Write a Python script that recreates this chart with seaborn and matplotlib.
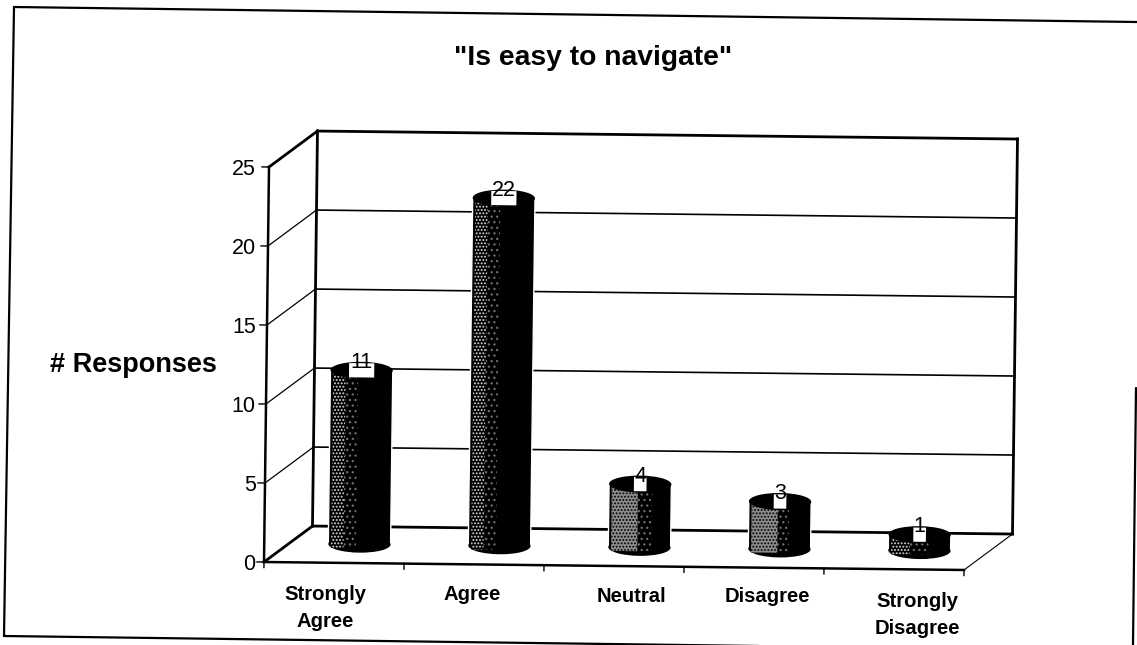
import pandas as pd
import seaborn as sns
import matplotlib.pyplot as plt
from matplotlib.lines import Line2D
from matplotlib.patches import Ellipse, Rectangle
from matplotlib.transforms import Affine2D

# Data
categories = ["Strongly\nAgree", "Agree", "Neutral", "Disagree", "Strongly\nDisagree"]
responses = [11, 22, 4, 3, 1]
y_ticks = [0, 5, 10, 15, 20, 25]

# Label offsets from the category centre, in pixels
label_dx = [-9, -2, 17, 13, 23]
label_dy = [-46, -32, -34, -35, -53]

W, H = 1137, 645
sns.set_theme(style="white")
plt.rcParams["font.family"] = ["Liberation Sans", "DejaVu Sans"]
plt.rcParams["hatch.linewidth"] = 0.9

fig = plt.figure(figsize=(W / 100, H / 100), dpi=100, facecolor="white")
ax = fig.add_axes([264 / W, (H - 562) / H, 700 / W, 395 / H])

df = pd.DataFrame({"category": categories, "responses": responses})
sns.barplot(data=df, x="category", y="responses", color="black", width=0.445,
            saturation=1, ax=ax)
ax.set_xlim(-0.5, 4.5)
ax.set_ylim(0, 25)
ax.patch.set_visible(False)
for s in ax.spines.values():
    s.set_visible(False)

# The scan is slightly rotated, so everything gets this small shear
skew = Affine2D.from_values(1, -0.101, 0.00143, 1, 0, -0.0506)
tr = skew + ax.transData
# half way into the depth of the 3d box, where the cylinders stand
mid = Affine2D().translate(0.18, 1.2) + tr
back_dx, back_dy = 0.343, 2.31


def line(xs, ys, lw=1.0, transform=tr):
    ax.plot(xs, ys, color="black", lw=lw, transform=transform, clip_on=False,
            zorder=1, solid_capstyle="projecting")


# Back wall and side wall
line([-0.5 + back_dx] * 2, [back_dy, 25 + back_dy], 2.0)
line([4.5 + back_dx] * 2, [back_dy, 25 + back_dy], 2.0)
for v in y_ticks:
    lw = 2.0 if v in (0, 25) else 1.2
    line([-0.5 + back_dx, 4.5 + back_dx], [v + back_dy] * 2, lw)
    side_lw = 2.0 if v in (0, 25) else 0.9
    line([-0.5, -0.5 + back_dx], [v, v + back_dy], side_lw)
    line([-0.55, -0.5], [v, v], 1.0)

# Front of the box
line([-0.5, -0.5], [0, 25], 1.8)
line([-0.5, 4.5], [0, 0], 1.8)
line([4.5, 4.5 + back_dx], [0, back_dy], 0.8)
for i in range(6):
    line([i - 0.5, i - 0.5], [-0.35, 0], 1.0)

# Cylinders, the lit side is a dense strip and a fainter one next to it
bar_w = 0.445
cap_h = 1.08
dense_width = [0.2, 0.2, 0.42, 0.42, 0.3]
faint_width = [0.4, 0.4, 0.65, 0.6, 0.6]
dense_face = ["black", "black", "#8c8c8c", "#8c8c8c", "black"]
dense_dots = ["#e0e0e0", "#e0e0e0", "black", "black", "#e0e0e0"]
for i, bar in enumerate(ax.patches):
    bar.set_transform(mid)
    bar.set_clip_on(False)
    bar.set_zorder(2)
    x0, v = bar.get_x(), bar.get_height()
    ax.add_patch(Ellipse((i, 0), bar_w, cap_h, fc="black", ec="none",
                         transform=mid, zorder=2, clip_on=False))
    ax.add_patch(Rectangle((x0 + 0.02, -0.25), bar_w * faint_width[i], v + 0.25,
                           fc="black", ec="#6e6e6e", lw=0, hatch="...",
                           transform=mid, zorder=3, clip_on=False))
    ax.add_patch(Rectangle((x0 + 0.02, -0.25), bar_w * dense_width[i], v + 0.25,
                           fc=dense_face[i], ec=dense_dots[i], lw=0, hatch=".....",
                           transform=mid, zorder=3, clip_on=False))
    ax.add_patch(Ellipse((i, v), bar_w, cap_h, fc="black", ec="none",
                         transform=mid, zorder=4, clip_on=False))
    # white label box biting into the cap
    box_w = 0.09 * len(str(responses[i]))
    ax.add_patch(Rectangle((i - box_w / 2, v - 0.45), box_w, 0.9, fc="white", ec="none",
                           transform=mid, zorder=5, clip_on=False))
    ax.text(i, v + 0.5, str(responses[i]), ha="center", va="center", fontsize=15.5,
            color="black", transform=mid, zorder=6, clip_on=False)

# Axis text
ax.set_yticks(y_ticks)
ax.set_yticklabels([str(v) for v in y_ticks], fontsize=15.5, color="black")
ax.tick_params(axis="y", length=0, pad=6)
ax.set_xticks([])
ax.set_xlabel("")
ax.set_ylabel("")
for i, cat in enumerate(categories):
    ax.annotate(cat, (i, 0), xycoords="data", xytext=(label_dx[i], label_dy[i]),
                textcoords="offset pixels", ha="center", va="center", fontsize=14.6,
                fontweight="bold", color="black", linespacing=1.55,
                annotation_clip=False)

fig.text(593 / W, 1 - 58 / H, '"Is easy to navigate"', ha="center", va="center",
         fontsize=20.3, fontweight="bold", color="black")
fig.text(133 / W, 1 - 365 / H, "# Responses", ha="center", va="center",
         fontsize=19.5, fontweight="bold", color="black")

# Outer frame of the scanned page
for xs, ys in [([14, 1137], [7, 22]), ([14, 4], [7, 636]), ([4, 1137], [636, 651]),
               ([1136, 1133], [388, 645])]:
    fig.add_artist(Line2D([x / W for x in xs], [1 - y / H for y in ys], color="black", lw=1.6))

plt.savefig("out.png", dpi=100)
